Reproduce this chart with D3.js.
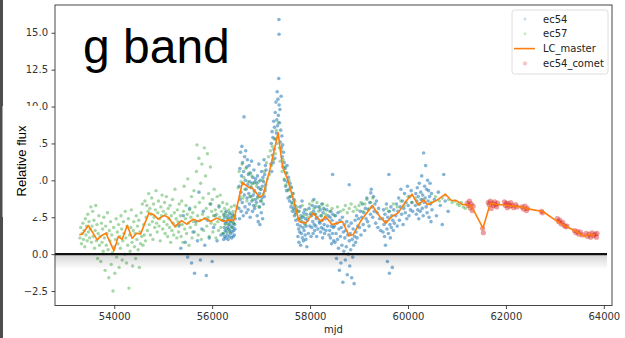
<!DOCTYPE html>
<html>
<head>
<meta charset="utf-8">
<script src="https://cdn.jsdelivr.net/npm/d3@7"></script>
<style>
  html, body { margin: 0; padding: 0; background: #fff; }
  svg { display: block; }
</style>
</head>
<body>
<svg id="chart" width="625" height="338"></svg>
<script>
// ---- data: [mjd, relative flux] ----
const lcMaster = [
  [53286,1.31],[53355,1.37],[53469,1.94],[53653,0.97],[53743,1.26],[53831,1.42],[53994,0.22],
  [54082,1.19],[54163,1.01],[54265,1.94],[54367,1.08],[54457,1.42],[54539,1.37],[54708,2.78],
  [54810,2.66],[54898,2.37],[55014,2.61],[55102,2.50],[55239,1.87],[55376,2.27],[55478,2.03],
  [55612,2.37],[55729,2.21],[55851,2.44],[55968,2.21],[56090,2.44],[56239,2.21],[56327,2.32],
  [56440,2.27],[56620,4.85],[56735,4.54],[56825,4.47],[56974,3.86],[57041,4.01],[57178,5.71],
  [57348,8.23],[57437,5.93],[57531,5.15],[57654,3.79],[57776,2.21],[57913,2.10],[58060,2.78],
  [58131,2.51],[58233,2.21],[58310,2.57],[58450,2.00],[58662,2.21],[58797,1.24],[58878,1.31],
  [59049,2.32],[59274,3.29],[59423,2.55],[59546,2.10],[59682,2.59],[59796,2.78],[59953,3.56],
  [60082,4.06],[60204,3.34],[60321,3.68],[60397,3.34],[60580,3.63],[60764,4.06],[60886,3.63],
  [60988,3.63],[61103,3.38],[61294,3.27],[61531,1.76],[61682,3.45],[61804,3.38],[62041,3.29],
  [62280,3.22],[62484,3.05],[62756,2.89],[63097,2.10],[63233,1.87],[63437,1.53],[63607,1.19],
  [63675,1.31],[63811,1.31]
];

const ec57 = [
  [53300,1.1],[53315,1.8],[53330,0.7],[53345,1.4],[53360,2.1],[53372,1.0],[53385,1.6],[53398,0.5],
  [53410,2.4],[53422,1.3],[53435,1.9],[53447,0.9],[53460,2.7],[53472,1.5],[53485,2.2],[53497,1.1],
  [53510,1.7],[53522,3.2],[53535,0.8],[53547,1.9],[53560,2.9],[53572,1.2],[53585,2.3],[53597,0.4],
  [53610,1.6],[53622,3.3],[53635,0.9],[53647,2.0],[53660,-0.3],[53672,1.4],[53685,2.6],[53697,0.6],
  [53712,1.2],[53725,-0.5],[53738,2.1],[53750,0.8],[53763,1.7],[53775,0.2],[53788,2.5],[53800,1.1],
  [53813,-1.1],[53825,1.9],[53838,0.6],[53850,1.4],[53863,2.8],[53875,0.3],[53888,-1.6],[53900,1.6],
  [53913,0.9],[53925,2.2],[53938,-0.7],[53950,1.3],[53963,0.1],[53975,-2.5],[53988,1.8],[54000,0.5],
  [54013,-1.3],[54025,1.0],[54038,2.4],[54050,-0.2],[54063,1.5],[54075,0.7],[54088,2.0],[54100,-0.9],
  [54113,1.2],[54125,0.4],[54138,2.6],[54150,1.7],[54163,-0.4],[54175,0.9],[54188,2.2],[54200,1.4],
  [54213,0.0],[54225,2.9],[54238,1.1],[54250,-0.6],[54263,1.9],[54275,0.6],[54288,2.4],[54300,-2.3],
  [54313,1.3],[54325,0.2],[54338,1.8],[54350,3.0],[54363,0.8],[54375,-0.8],[54388,1.6],[54400,2.2],
  [54413,0.5],[54425,1.4],[54438,-0.3],[54450,2.6],[54463,1.0],[54475,1.9],[54488,0.3],[54500,2.3],
  [54513,-0.9],[54525,1.5],[54538,0.7],[54550,2.8],[54563,1.2],[54575,3.4],[54588,0.6],[54600,2.0],
  [54613,1.3],[54625,3.6],[54638,0.9],
  [54652,2.5],[54665,3.3],[54678,1.6],[54690,2.9],[54703,4.1],[54715,2.0],[54728,3.1],[54740,1.3],
  [54753,2.7],[54765,3.8],[54778,2.2],[54790,1.0],[54803,3.4],[54815,2.5],[54828,1.8],[54840,3.0],
  [54853,4.3],[54865,2.1],[54878,1.5],[54890,2.8],[54903,3.6],[54915,1.9],[54928,2.4],[54940,0.9],
  [54953,3.2],[54965,2.6],[54978,4.0],[54990,1.7],[55003,2.9],[55015,2.2],[55028,3.5],[55040,1.4],
  [55053,2.7],[55065,3.9],[55078,2.0],[55090,1.2],[55103,3.1],[55115,2.4],[55128,1.8],[55140,3.3],
  [55153,0.8],[55165,2.6],[55178,1.6],[55190,3.7],[55203,2.1],[55215,1.3],[55228,2.8],[55240,4.4],
  [55253,1.9],[55265,2.4],[55278,1.1],[55290,3.0],[55303,2.2],[55315,1.5],[55328,3.4],[55340,2.0],
  [55352,2.6],[55365,1.2],[55378,3.6],[55390,2.0],[55403,0.8],[55415,2.9],[55428,4.6],[55440,1.7],
  [55453,2.4],[55465,3.3],[55478,1.4],[55490,2.7],[55503,5.1],[55515,2.1],[55528,0.6],[55540,3.0],
  [55553,1.8],[55565,2.5],[55578,3.9],[55590,1.1],[55603,2.8],[55615,2.2],[55628,4.3],[55640,1.5],
  [55653,3.2],[55665,2.0],[55678,5.6],[55690,7.4],[55703,2.6],[55715,1.3],[55728,6.5],[55740,3.5],
  [55753,2.3],[55765,4.8],[55778,1.0],[55790,6.1],[55803,2.7],[55815,3.8],[55828,1.6],[55840,7.2],
  [55853,2.4],[55865,5.3],[55878,3.1],[55890,1.9],[55903,6.8],[55915,2.5],[55928,4.1],[55940,1.2],
  [55953,3.4],[55965,5.9],[55978,2.1],[55990,2.9],[56003,3.7],[56015,1.5],[56028,2.6],[56040,4.4],
  [56053,2.0],[56065,3.0],[56078,1.1],[56090,2.7],[56103,3.9],[56115,2.2],[56128,1.6],[56140,3.3],
  [56153,2.5],[56165,4.0],[56178,1.8],[56190,2.9],[56203,2.3],[56215,3.5],[56228,1.4],[56240,2.6],
  [56253,3.1],[56265,2.0],[56278,2.8],[56290,1.7],[56303,3.4],[56315,2.4],[56328,2.0],[56340,3.0],
  [56353,1.5],[56365,2.7],[56378,2.2],[56390,3.2],[56403,1.8],[56415,2.5],[56428,2.9],[56440,2.1],
  [56453,3.3],[56465,2.6],
  [56510,3.2],[56530,4.5],[56550,5.6],[56570,3.9],[56590,4.9],[56610,6.1],[56630,3.8],[56650,5.2],
  [56670,4.4],[56690,5.8],[56710,3.6],[56730,4.9],[56750,5.5],[56770,3.9],[56790,4.6],[56810,5.3],
  [56830,3.7],[56850,4.8],[56870,4.2],[56890,3.3],[56910,4.6],[56930,3.8],[56950,4.9],[56970,3.2],
  [56990,4.4],[57010,3.6],[57030,5.0],[57050,4.1],[57070,5.6],[57090,4.5],[57110,6.2],[57130,5.1],
  [57150,6.6],[57170,5.4],[57190,7.0],[57210,6.0],[57230,7.3],[57250,6.4],[57270,7.8],[57290,6.8],
  [57310,8.4],[57330,7.5],[57350,8.9],[57370,7.2],[57390,6.3],[57410,7.0],[57430,5.6],[57450,6.4],
  [57470,5.1],[57490,5.9],[57510,4.7],[57530,5.5],[57550,4.3],[57570,5.0],[57590,3.9],[57610,4.6],
  [57630,3.4],[57650,4.1],[57670,3.0],[57690,3.6],[57710,2.7],[57730,3.2],[57750,2.4],
  [57780,2.9],[57810,2.4],[57840,3.3],[57870,2.6],[57900,2.0],[57930,3.0],[57960,2.5],[57990,3.4],
  [58020,2.8],[58050,3.6],[58080,3.1],[58110,2.7],[58140,3.5],[58170,2.9],[58200,3.2],[58230,2.6],
  [58260,3.4],[58290,3.0],[58320,2.7],[58350,3.3],[58400,2.9],[58450,3.1],[58500,2.6],[58560,3.2],
  [58620,2.9],[58680,3.0],[58720,3.3],[58760,2.8],[58800,3.1],[58840,3.4],[58880,2.9],[58920,3.2],
  [58960,3.0],[59000,3.3],[59040,3.5],[59080,2.9],[59120,3.4],[59160,3.7],[59200,3.1],[59240,3.5],
  [59280,3.8],[59560,3.1],[59620,2.9],[59700,3.4],[59780,3.2],[59850,3.6],[59920,3.3],[60000,3.9],
  [60080,3.5],[60150,3.8],[60220,3.4],[60300,3.7],[60480,3.5],[60560,3.9],[60640,3.6],[60700,3.8],
  [60760,4.0],[60830,3.7],[60900,3.5],[60960,3.6],[61010,3.4],[61050,3.3],[61090,3.5],[61130,3.2],
  [61170,3.1]
];

const ec54 = [
  [55320,1.9],[55360,0.4],[55410,2.6],[55450,0.8],[55500,-0.2],[55540,3.1],[55580,-0.6],[55610,1.5],
  [55640,-1.3],[55670,2.2],[55700,0.9],[55730,4.2],[55760,-0.4],[55790,1.7],[55820,2.9],[55850,0.6],
  [55880,-1.45],[55910,2.3],[55940,1.1],[55970,3.4],[56000,-0.5],[56030,1.8],[56060,2.6],[56100,0.9],
  [56140,3.2],[56180,1.3],
  [56222,1.4],[56228,2.3],[56235,1.0],[56241,2.7],[56248,1.8],[56254,1.2],[56260,2.5],[56267,1.6],
  [56273,2.1],[56280,1.1],[56286,2.9],[56292,1.5],[56299,2.2],[56305,1.3],[56312,2.6],[56318,1.8],
  [56325,1.0],[56331,2.4],[56338,1.7],[56344,2.0],[56350,1.2],[56357,2.8],[56363,1.6],[56370,2.2],
  [56376,1.4],[56383,2.5],[56389,1.9],[56396,1.1],[56402,2.3],[56408,1.5],[56415,2.7],[56421,1.8],
  [56428,1.2],[56434,2.1],[56441,1.6],[56447,2.6],[56454,1.3],[56460,2.0],[56467,1.7],[56473,2.4],
  [56545,3.1],[56552,4.6],[56559,2.4],[56566,5.8],[56573,3.7],[56580,6.9],[56587,4.2],[56594,2.9],
  [56601,5.3],[56608,7.3],[56615,3.5],[56622,6.2],[56629,4.8],[56636,2.6],[56643,5.6],[56650,9.3],
  [56657,4.0],[56664,6.6],[56671,3.2],[56678,5.0],[56685,7.0],[56692,4.4],[56699,2.8],[56706,5.9],
  [56713,3.8],[56720,6.4],[56727,4.7],[56734,3.0],[56741,5.4],[56748,4.1],[56755,6.0],[56762,3.4],
  [56769,4.9],[56776,2.5],[56783,5.5],[56790,3.9],[56797,4.5],[56804,6.3],[56811,3.6],[56818,4.8],
  [56825,2.9],[56832,5.2],[56839,4.0],[56846,3.3],[56853,5.7],[56860,4.3],[56867,3.1],[56874,4.9],
  [56881,3.7],[56888,5.1],
  [56905,3.5],[56912,4.8],[56919,2.6],[56926,5.3],[56933,3.9],[56940,2.2],[56947,4.5],[56954,6.1],
  [56961,3.2],[56968,4.1],[56975,2.0],[56982,5.0],[56989,3.6],[56996,4.4],[57003,2.8],[57010,5.6],
  [57017,3.8],[57024,4.6],[57031,2.4],[57038,5.2],[57045,3.4],[57052,4.9],[57059,6.4],[57066,3.9],
  [57073,5.4],[57080,4.3],[57087,6.0],[57094,4.7],[57101,5.7],
  [57200,6.1],[57208,7.5],[57216,5.6],[57224,8.3],[57232,6.7],[57240,7.9],[57248,6.2],[57256,9.0],
  [57264,7.1],[57272,8.6],[57280,6.5],[57288,9.6],[57296,7.8],[57304,10.3],[57312,8.2],[57320,9.1],
  [57328,11.0],[57336,8.7],[57344,10.5],[57352,9.4],[57360,11.9],[57364,15.9],[57366,14.9],[57368,10.1],
  [57376,8.9],[57384,9.8],[57392,7.6],[57400,8.4],[57408,10.7],[57416,7.2],[57424,8.0],[57432,6.6],
  [57440,7.4],[57448,5.9],[57456,6.9],
  [57470,6.2],[57480,5.0],[57490,5.8],[57500,4.6],[57510,5.5],[57520,4.3],[57530,6.0],[57540,4.9],
  [57550,3.8],[57560,5.2],[57570,4.4],[57580,3.6],[57590,4.8],[57600,3.9],[57610,3.2],[57620,4.5],
  [57630,3.5],[57640,2.9],[57650,4.1],[57660,3.1],[57670,3.7],[57680,2.6],[57690,3.3],[57700,2.8],
  [57710,2.3],[57720,3.0],
  [57745,2.0],[57752,1.2],[57759,2.9],[57766,1.7],[57773,0.8],[57780,2.4],[57787,1.5],[57794,3.2],
  [57801,1.9],[57808,0.6],[57815,2.6],[57822,1.4],[57829,2.2],[57836,3.6],[57843,1.1],[57850,2.5],
  [57857,1.8],[57864,0.9],[57871,2.8],[57878,1.6],[57885,2.1],[57892,3.0],[57899,1.3],[57906,2.4],
  [57913,1.0],[57920,1.9],[57927,2.7],[57934,0.5],
  [57950,2.3],[57965,1.4],[57980,3.1],[57995,1.9],[58010,2.7],[58020,1.2],
  [58030,2.6],[58038,1.8],[58046,3.3],[58054,2.2],[58062,1.4],[58070,2.9],[58078,3.7],[58086,2.0],
  [58094,1.6],[58102,2.7],[58110,3.2],[58118,1.9],[58126,2.4],[58134,1.2],
  [58145,2.5],[58160,1.7],[58175,3.2],[58190,2.2],
  [58200,2.1],[58208,3.0],[58216,1.5],[58224,2.6],[58232,1.8],[58240,3.4],[58248,2.3],[58256,1.1],
  [58264,2.8],[58272,1.7],[58280,3.1],[58288,2.0],[58296,1.4],
  [58310,2.4],[58325,1.6],[58340,3.0],[58355,1.9],[58370,2.6],[58385,1.3],
  [58400,1.6],[58408,2.5],[58416,1.1],[58424,2.9],[58432,1.9],[58440,0.7],[58448,2.3],[58456,1.4],
  [58464,2.7],[58472,1.8],[58480,0.9],
  [58500,1.9],[58510,0.8],[58520,2.6],[58530,1.4],[58540,-0.3],[58550,2.1],[58560,1.0],[58570,2.8],
  [58580,0.4],[58590,1.7],[58600,-1.1],[58610,2.3],[58620,1.2],[58630,-0.6],[58640,1.8],[58650,0.6],
  [58660,2.5],[58670,-1.9],[58680,1.5],[58690,0.2],[58700,2.0],[58710,1.1],[58720,-0.4],[58730,1.6],
  [58740,0.5],[58750,2.2],[58760,-1.4],[58770,1.3],[58780,0.0],[58790,1.9],[58800,0.9],[58810,-0.8],
  [58820,1.4],[58830,0.3],[58840,2.1],[58850,-1.6],[58860,1.0],[58870,-0.2],[58880,1.7],[58890,0.6],
  [58900,-2.0],[58910,1.2],[58920,2.3],[58930,0.8],[58940,1.5],[58950,2.6],[58960,1.1],[58975,1.9],
  [58990,2.4],
  [59010,1.8],[59025,2.9],[59040,1.3],[59055,2.5],[59070,3.4],[59085,2.0],[59100,2.8],[59115,1.6],
  [59130,3.1],[59145,2.4],[59160,3.8],[59175,2.2],[59190,3.0],[59205,1.9],[59220,3.5],[59235,2.7],
  [59250,4.4],[59265,3.2],[59280,2.5],[59295,3.9],[59310,2.9],[59325,3.4],[59340,2.1],[59355,3.6],
  [59370,2.8],[59385,1.8],[59400,3.1],[59420,2.4],[59440,1.6],
  [59480,2.4],[59490,1.5],[59500,3.0],[59510,2.0],[59520,1.2],[59530,2.7],[59540,0.6],[59550,2.2],
  [59560,3.4],[59570,1.7],[59580,-0.5],[59590,2.5],[59600,1.4],[59610,2.9],[59620,-1.3],[59630,2.0],
  [59640,1.1],[59650,3.2],[59660,1.8],[59670,2.6],[59680,-0.9],[59690,2.3],[59700,1.6],[59710,3.0],
  [59720,2.1],
  [59750,2.6],[59765,3.4],[59780,1.9],[59795,2.9],[59810,3.8],[59825,2.3],[59840,3.2],[59855,4.4],
  [59870,2.7],[59885,3.6],[59900,2.0],[59915,3.1],[59930,4.1],[59945,2.8],[59960,3.5],[59975,2.4],
  [59990,4.6],[60005,3.3],[60020,2.6],[60035,3.9],[60050,3.0],[60065,4.3],[60080,3.5],[60095,2.9],
  [58460,5.4],[58800,4.7],[59240,4.15],[59610,5.4],[60730,5.4],
  [60150,3.3],[60160,4.1],[60170,2.7],[60180,3.6],[60190,4.5],[60200,3.0],[60210,3.9],[60220,2.4],
  [60230,4.8],[60240,3.4],[60250,2.9],[60260,4.2],[60270,3.7],[60280,5.3],[60290,3.1],[60300,4.0],
  [60310,2.6],[60320,6.85],[60330,3.5],[60340,4.6],[60350,3.8],[60360,6.0],[60370,3.2],[60380,4.4],
  [60390,2.8],[60400,5.0],[60410,3.6],[60420,4.3],[60430,2.5],[60440,3.9],[60450,4.8],[60460,3.4],
  [60470,2.2],[60480,4.1],[60490,3.0],
  [60540,3.7],[60580,2.6],[60620,4.2],[60660,3.3],[60700,2.0],[60760,3.6],[60820,2.9]
];

const ec54Comet = [
  [61210,3.45],[61235,3.30],[61255,3.60],[61270,3.15],[61290,3.40],[61310,2.95],[61330,3.25],
  [61525,1.75],[61540,1.45],
  [61640,3.50],[61660,3.35],[61680,3.60],[61700,3.10],[61720,3.45],[61745,3.30],[61770,3.55],
  [61790,3.35],[61810,3.20],[61830,3.45],
  [61970,3.55],[61990,3.30],[62010,3.45],[62030,3.15],[62050,3.40],[62080,3.25],[62100,3.50],
  [62130,3.30],[62160,3.15],[62200,3.35],[62225,3.20],
  [62330,3.20],[62360,3.05],[62390,3.25],[62420,2.95],[62440,3.10],
  [62730,2.90],[62745,2.80],
  [63050,2.40],[63080,2.20],[63100,2.30],[63130,2.05],[63160,2.15],[63190,1.95],[63220,1.85],
  [63250,1.90],
  [63400,1.60],[63430,1.45],[63460,1.55],[63490,1.35],[63520,1.50],[63560,1.30],
  [63640,1.40],[63670,1.20],[63700,1.35],[63730,1.15],[63760,1.45],[63790,1.25],[63820,1.35],
  [63850,1.15],[63860,1.40]
];

const xTicks = [54000, 56000, 58000, 60000, 62000, 64000];
const yTicks = [-2.5, 0, 2.5, 5, 7.5, 10, 12.5, 15];
const legendItems = [
  { label: "ec54", kind: "dot", color: "#1f77b4" },
  { label: "ec57", kind: "dot", color: "#2ca02c" },
  { label: "LC_master", kind: "line", color: "#ff7f0e" },
  { label: "ec54_comet", kind: "dot", color: "#d62728" }
];

// ---- layout ----
const svg = d3.select("#chart");
const plot = { left: 55, right: 612, top: 5, bottom: 305.5 };

const x = d3.scaleLinear().domain([52790, 64167]).range([plot.left, plot.right]);
const y = d3.scaleLinear().domain([-3.48, 16.88]).range([plot.bottom, plot.top]);

const tickFont = "'DejaVu Sans', sans-serif";

svg.append("rect").attr("width", 625).attr("height", 338).attr("fill", "#fff");

const defs = svg.append("defs");
// clip for data marks
defs.append("clipPath").attr("id", "plotClip")
  .append("rect")
  .attr("x", plot.left).attr("y", plot.top)
  .attr("width", plot.right - plot.left).attr("height", plot.bottom - plot.top);

const shadow = defs.append("linearGradient").attr("id", "zeroShadow")
  .attr("x1", 0).attr("y1", 0).attr("x2", 0).attr("y2", 1);
shadow.append("stop").attr("offset", "0%").attr("stop-color", "#000").attr("stop-opacity", 0.16);
shadow.append("stop").attr("offset", "100%").attr("stop-color", "#000").attr("stop-opacity", 0);

const data = svg.append("g").attr("clip-path", "url(#plotClip)");

// scatter series
data.append("g").selectAll("circle").data(ec54).join("circle")
  .attr("cx", d => x(d[0])).attr("cy", d => y(d[1])).attr("r", 1.8)
  .attr("fill", "#1f77b4").attr("fill-opacity", 0.55);

data.append("g").selectAll("circle").data(ec57).join("circle")
  .attr("cx", d => x(d[0])).attr("cy", d => y(d[1])).attr("r", 1.7)
  .attr("fill", "#2ca02c").attr("fill-opacity", 0.42);

data.append("g").selectAll("circle").data(ec54Comet).join("circle")
  .attr("cx", d => x(d[0])).attr("cy", d => y(d[1])).attr("r", 2.6)
  .attr("fill", "#d62728").attr("fill-opacity", 0.45);

// master light curve
data.append("path").datum(lcMaster)
  .attr("fill", "none").attr("stroke", "#ff7f0e").attr("stroke-width", 1.6)
  .attr("stroke-linejoin", "round")
  .attr("d", d3.line().x(d => x(d[0])).y(d => y(d[1])));

// zero reference line with soft shadow beneath
const zeroEnd = 607;
svg.append("rect")
  .attr("x", plot.left).attr("y", y(0) + 1)
  .attr("width", zeroEnd - plot.left).attr("height", 14)
  .attr("fill", "url(#zeroShadow)");
svg.append("line")
  .attr("x1", plot.left).attr("x2", zeroEnd)
  .attr("y1", y(0)).attr("y2", y(0))
  .attr("stroke", "#111").attr("stroke-width", 2.4);

// axes
const xAxis = svg.append("g")
  .attr("transform", `translate(0,${plot.bottom})`)
  .call(d3.axisBottom(x).tickValues(xTicks).tickFormat(d3.format("d")).tickSize(3.5).tickPadding(3.5));
const yAxis = svg.append("g")
  .attr("transform", `translate(${plot.left},0)`)
  .call(d3.axisLeft(y).tickValues(yTicks).tickFormat(d3.format(".1f")).tickSize(3.5).tickPadding(3.5));

[xAxis, yAxis].forEach(g => {
  g.select(".domain").remove();
  g.selectAll(".tick line").attr("stroke", "#333").attr("stroke-width", 0.9);
  g.selectAll(".tick text").attr("fill", "#333").style("font-family", tickFont).style("font-size", "10px");
});

// frame
svg.append("rect")
  .attr("x", plot.left).attr("y", plot.top)
  .attr("width", plot.right - plot.left).attr("height", plot.bottom - plot.top)
  .attr("fill", "none").attr("stroke", "#333").attr("stroke-width", 0.9);

// x label
svg.append("text")
  .attr("x", (plot.left + plot.right) / 2).attr("y", 333)
  .attr("text-anchor", "middle")
  .style("font-family", tickFont).style("font-size", "10px").attr("fill", "#222")
  .text("mjd");

// left edge strip and the label panel over the tick labels
svg.append("rect").attr("x", 0).attr("y", 0).attr("width", 3).attr("height", 338).attr("fill", "#4d4d4d");
svg.append("rect").attr("x", 2.5).attr("y", 106).attr("width", 37).attr("height", 111).attr("fill", "#fff");

svg.append("text")
  .attr("transform", "translate(26,161) rotate(-90)")
  .attr("text-anchor", "middle")
  .style("font-family", "'Liberation Sans', Arial, sans-serif").style("font-size", "13px").attr("fill", "#000")
  .text("Relative flux");

// band label
svg.append("text")
  .attr("x", 83).attr("y", 63)
  .style("font-family", "'Liberation Sans', Arial, sans-serif").style("font-size", "48px").attr("fill", "#000")
  .text("g band");

// legend
const legend = svg.append("g");
legend.append("rect")
  .attr("x", 512).attr("y", 10).attr("width", 96).attr("height", 64).attr("rx", 2.5)
  .attr("fill", "#fff").attr("fill-opacity", 0.85).attr("stroke", "#d6d6d6").attr("stroke-width", 0.8);
const rows = legend.selectAll("g.row").data(legendItems).join("g")
  .attr("class", "row")
  .attr("transform", (d, i) => `translate(0,${19 + i * 14.8})`);
rows.filter(d => d.kind === "dot").append("circle")
  .attr("cx", 525).attr("cy", 0)
  .attr("r", d => d.label === "ec54_comet" ? 2.2 : 1.5)
  .attr("fill", d => d.color).attr("fill-opacity", 0.25);
rows.filter(d => d.kind === "line").append("line")
  .attr("x1", 514).attr("x2", 535).attr("y1", 0).attr("y2", 0)
  .attr("stroke", d => d.color).attr("stroke-width", 1.6);
rows.append("text")
  .attr("x", 543).attr("y", 0).attr("dy", "0.35em")
  .style("font-family", tickFont).style("font-size", "10px").attr("fill", "#222")
  .text(d => d.label);
</script>
</body>
</html>
